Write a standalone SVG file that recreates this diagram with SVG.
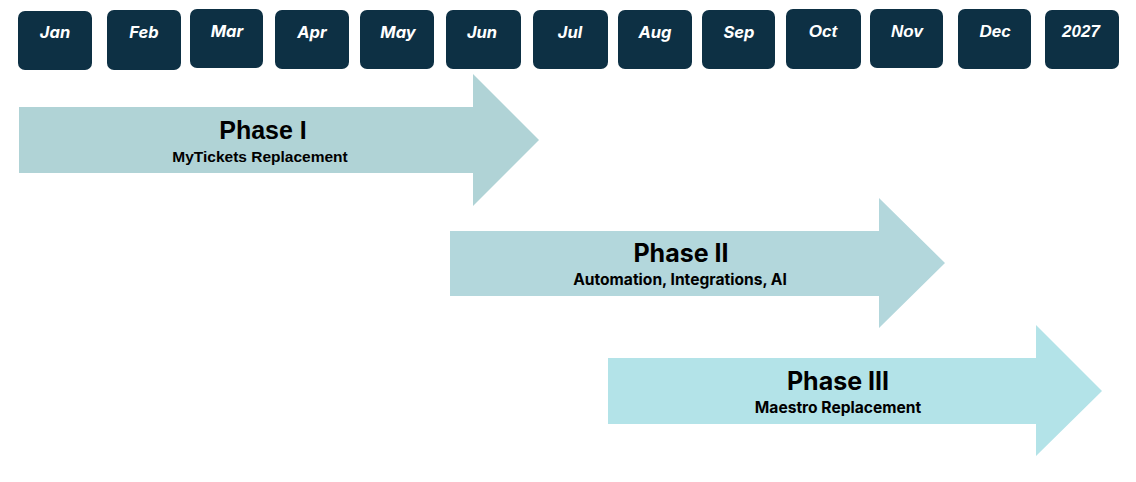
<svg xmlns="http://www.w3.org/2000/svg" width="1136" height="482" viewBox="0 0 1136 482">
<style>
.box{fill:#0d3044}
.m{font-family:Inter,"Open Sans","Liberation Sans",sans-serif;font-weight:700;font-style:italic;font-size:16.5px;fill:#ffffff;text-anchor:middle}
.m2{font-family:"Liberation Sans",Arial,sans-serif;font-weight:700;font-style:italic;font-size:17px;fill:#ffffff;text-anchor:middle}
.a1{fill:#b0d3d6}
.a2{fill:#b3d7dc}
.a3{fill:#b3e3e8}
.t1{font-family:"Liberation Sans",Arial,sans-serif;font-weight:700;font-size:25px;fill:#000;text-anchor:middle}
.s1{font-family:"Liberation Sans",Arial,sans-serif;font-weight:700;font-size:15.5px;fill:#000;text-anchor:middle}
.t2{font-family:Inter,"Open Sans",sans-serif;font-weight:700;font-size:25px;fill:#000;text-anchor:middle}
.s2{font-family:Inter,"Open Sans",sans-serif;font-weight:700;font-size:15.6px;fill:#000;text-anchor:middle}
</style>
<g id="months">
<g id="jan"><rect class="box" x="18" y="11" width="74" height="59" rx="7"/><text class="m" x="55" y="38">Jan</text></g>
<g id="feb"><rect class="box" x="107" y="10" width="74" height="60" rx="7"/><text class="m" x="144" y="38">Feb</text></g>
<g id="mar"><rect class="box" x="190" y="9" width="73" height="59" rx="7"/><text class="m" x="227" y="37">Mar</text></g>
<g id="apr"><rect class="box" x="275" y="10" width="74" height="59" rx="7"/><text class="m" x="312" y="38">Apr</text></g>
<g id="may"><rect class="box" x="360" y="10" width="74" height="59" rx="7"/><text class="m" x="398" y="38">May</text></g>
<g id="jun"><rect class="box" x="446" y="10" width="75" height="59" rx="7"/><text class="m" x="482" y="38">Jun</text></g>
<g id="jul"><rect class="box" x="533" y="10" width="75" height="59" rx="7"/><text class="m" x="570" y="38">Jul</text></g>
<g id="aug"><rect class="box" x="618" y="10" width="74" height="59" rx="7"/><text class="m" x="655" y="38">Aug</text></g>
<g id="sep"><rect class="box" x="702" y="10" width="73" height="59" rx="7"/><text class="m" x="739" y="38">Sep</text></g>
<g id="oct"><rect class="box" x="786" y="9" width="75" height="60" rx="7"/><text class="m2" x="823" y="37">Oct</text></g>
<g id="nov"><rect class="box" x="870" y="9" width="73" height="59" rx="7"/><text class="m2" x="907" y="37">Nov</text></g>
<g id="dec"><rect class="box" x="958" y="9" width="73" height="60" rx="7"/><text class="m2" x="995" y="37">Dec</text></g>
<g id="y2027"><rect class="box" x="1045" y="10" width="74" height="59" rx="7"/><text class="m2" x="1081" y="37">2027</text></g>
</g>
<g id="phase1">
<polygon class="a1" points="19,107 473,107 473,74 539,140 473,206 473,173 19,173"/>
<text class="t1" x="263" y="139">Phase I</text>
<text class="s1" x="260" y="162">MyTickets Replacement</text>
</g>
<g id="phase2">
<polygon class="a2" points="450,231 879,231 879,198 945,263 879,328 879,296 450,296"/>
<text class="t2" x="681" y="262">Phase II</text>
<text class="s2" x="680" y="285">Automation, Integrations, AI</text>
</g>
<g id="phase3">
<polygon class="a3" points="608,358 1036,358 1036,325 1102,391 1036,456 1036,424 608,424"/>
<text class="t2" x="838" y="390">Phase III</text>
<text class="s2" x="838" y="413">Maestro Replacement</text>
</g>
<g id="connectors"/>
</svg>
